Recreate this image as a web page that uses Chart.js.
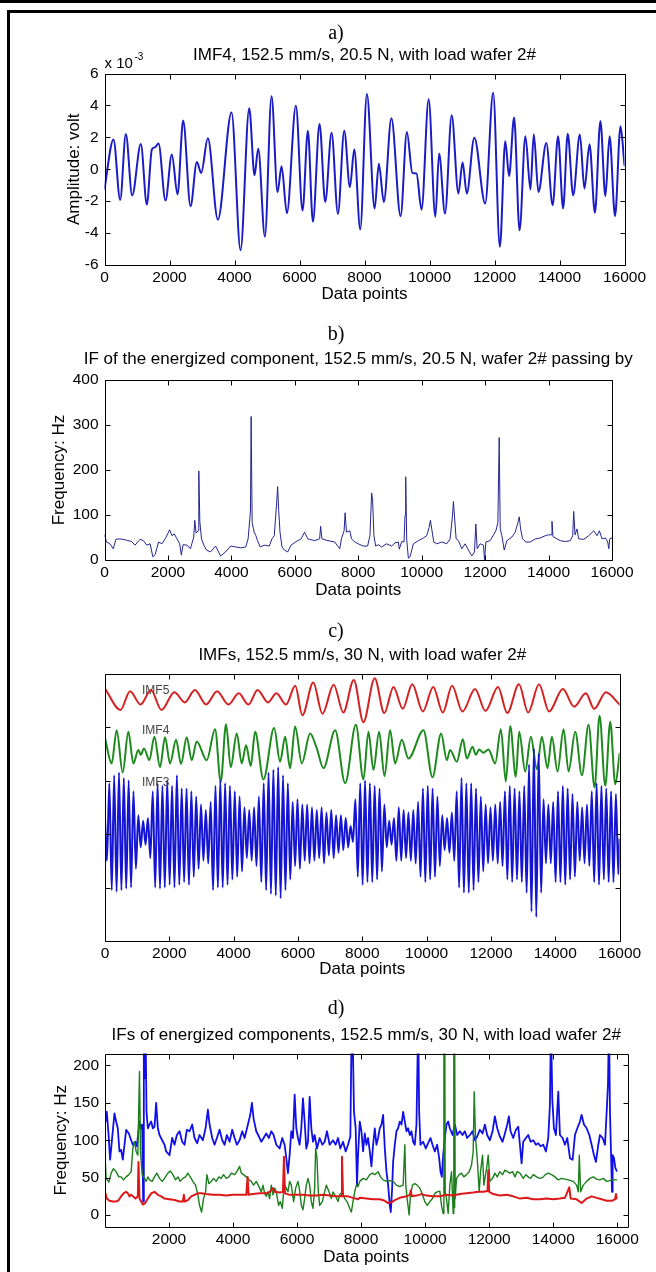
<!DOCTYPE html>
<html>
<head>
<meta charset="utf-8">
<script src="https://cdn.jsdelivr.net/npm/chart.js@4.4.1/dist/chart.umd.min.js"></script>
<style>
  html, body { margin: 0; padding: 0; background: #fff; overflow: hidden; }
  #page { position: relative; width: 656px; height: 1272px; background: #fff; }
  .rule { position: absolute; background: #000; }
  canvas { position: absolute; left: 16px; }
</style>
</head>
<body>
<div id="page">
  <div class="rule" style="left:0;top:0;width:656px;height:3px"></div>
  <div class="rule" style="left:7px;top:10px;width:649px;height:3px"></div>
  <div class="rule" style="left:7px;top:10px;width:3px;height:1262px"></div>
  <canvas id="chartA" width="640" height="310" style="top:0px"></canvas>
  <canvas id="chartB" width="640" height="305" style="top:310px"></canvas>
  <canvas id="chartC" width="640" height="370" style="top:615px"></canvas>
  <canvas id="chartD" width="640" height="287" style="top:985px"></canvas>
</div>
<script>
// ---------- shared tick values ----------
const xTicks = [0, 2000, 4000, 6000, 8000, 10000, 12000, 14000, 16000];
const xTicksD = [2000, 4000, 6000, 8000, 10000, 12000, 14000, 16000];
const yTicksA = [-6, -4, -2, 0, 2, 4, 6];
const yTicksB = [0, 100, 200, 300, 400];
const yTicksC = [1, 2, 3, 4];
const yTicksD = [0, 50, 100, 150, 200];

// ---------- a) IMF4 at 20.5 N: turning points (amplitude in units of 1e-3 V) ----------
const imf4X = [0, 277, 482, 657, 852, 1118, 1303, 1457, 1560, 1662, 1877, 2072, 2247, 2421, 2647, 2842, 2975, 3180, 3488, 3909, 4186, 4453, 4617, 4730, 4935, 5140, 5325, 5448, 5612, 5889, 6094, 6258, 6412, 6617, 6792, 6987, 7182, 7377, 7551, 7685, 7869, 8074, 8312, 8441, 8595, 8827, 9111, 9304, 9472, 9600, 9755, 9974, 10180, 10296, 10477, 10683, 10889, 11018, 11147, 11379, 11714, 11959, 12165, 12332, 12448, 12603, 12771, 12951, 13106, 13209, 13351, 13595, 13789, 13956, 14111, 14253, 14420, 14626, 14768, 14923, 15090, 15258, 15412, 15541, 15709, 15876, 16000];
const imf4Amp = [-1.22, 1.87, -1.92, 2.21, -1.64, 1.58, -2.21, 1.24, 1.38, 1.62, -1.96, 0.93, -1.58, 3.05, -2.32, 0.46, -0.23, 1.94, -3.16, 3.56, -5.07, 3.83, -0.38, 1.3, -4.23, 4.57, -1.43, 0.19, -2.76, 3.98, -2.59, 2.42, -3.28, 2.84, -2.06, 2.29, -2.8, 2.42, -1.12, 1.24, -3.77, 4.72, -2.46, 0.35, -2.05, 3.2, -2.94, 2.34, -0.23, -0.27, -2.53, 4.38, -2.98, 0.98, -2.78, 3.38, -1.52, 0.42, -1.52, 1.98, -2.15, 4.8, -4.86, 1.75, -0.42, 3.24, -3.82, 2.07, -1.27, 2.19, -1.42, 1.65, -2.25, 2.07, -2.46, 2.23, -1.63, 2.17, -1.21, 1.57, -2.73, 3.03, -1.69, 2.07, -2.94, 2.69, 0.25];

// ---------- b) instantaneous frequency of the energized component (Hz) ----------
const ifX = [0, 63, 169, 275, 360, 487, 698, 857, 963, 1121, 1227, 1333, 1439, 1524, 1598, 1703, 1809, 1915, 2053, 2127, 2201, 2285, 2370, 2423, 2476, 2603, 2708, 2814, 2846, 2888, 2952, 2973, 3005, 3058, 3132, 3216, 3343, 3502, 3661, 3819, 3978, 4137, 4295, 4454, 4528, 4602, 4623, 4655, 4719, 4772, 4824, 4909, 5036, 5195, 5279, 5353, 5428, 5459, 5491, 5533, 5597, 5671, 5777, 5882, 6041, 6200, 6306, 6411, 6623, 6782, 6814, 6856, 7046, 7258, 7417, 7469, 7554, 7586, 7628, 7734, 7787, 7893,
  8000, 8158, 8295, 8369, 8422, 8453, 8495, 8548, 8632, 8737, 8895, 9053, 9159, 9264, 9295, 9369, 9443, 9474, 9496, 9527, 9580, 9632, 9738, 9896, 10054, 10159, 10233, 10275, 10317, 10380, 10475, 10633, 10791, 10896, 10970, 11001, 11033, 11086, 11159, 11265, 11370, 11475, 11581, 11665, 11707, 11749, 11844, 11949, 11981, 12023, 12160, 12265, 12339, 12402, 12444, 12476, 12528, 12602, 12686, 12844, 12949, 13034, 13076, 13118, 13181, 13286, 13423, 13581, 13739, 13897, 14002, 14087, 14108, 14139, 14266, 14371, 14529, 14687, 14761, 14793, 14834, 14897, 14950, 15108, 15266, 15424, 15529, 15603, 15687, 15793, 15866, 15898, 15929, 16000];
const ifHz = [56, 40, 36, 25, 46, 47, 44, 41, 33, 46, 43, 33, 36, 7, 12, 40, 36, 47, 67, 54, 58, 47, 36, 11, 34, 33, 25, 51, 88, 60, 65, 198, 86, 47, 33, 22, 18, 31, 9, 18, 31, 29, 27, 29, 47, 109, 319, 83, 62, 54, 43, 29, 33, 31, 47, 54, 127, 163, 112, 62, 29, 22, 18, 33, 41, 47, 62, 47, 43, 47, 75, 47, 43, 40, 25, 47, 65, 105, 62, 65, 47, 40,
  36, 31, 31, 54, 149, 133, 54, 31, 34, 29, 36, 31, 38, 40, 24, 41, 40, 99, 185, 47, 4, 7, 36, 43, 49, 54, 72, 88, 69, 40, 36, 40, 36, 47, 98, 130, 98, 47, 43, 25, 36, 22, 9, 18, 80, 25, 36, 33, 0, 40, 43, 56, 65, 83, 272, 69, 54, 22, 43, 51, 62, 83, 96, 69, 47, 40, 40, 47, 49, 54, 56, 56, 86, 52, 47, 43, 41, 43, 54, 108, 56, 69, 47, 46, 54, 65, 54, 65, 47, 49, 40, 25, 47, 49];

// ---------- c) IMFs at 30 N, stacked with offsets (IMF5 top, IMF4 middle, IMF3 bottom) ----------
const imf5X = [0, 481, 780, 1105, 1430, 1755, 2160, 2480, 2795, 3146, 3484, 3835, 4160, 4459, 4745, 5070, 5330, 5629, 5915, 6136, 6474, 6760, 7111, 7410, 7735, 8034, 8385, 8684, 8970, 9256, 9555, 9880, 10205, 10504, 10790, 11115, 11505, 11830, 12220, 12506, 12870, 13156, 13494, 13806, 14235, 14586, 14950, 15210, 15574, 16000];
const imf5Y = [4.72, 4.32, 4.67, 4.42, 4.69, 4.32, 4.65, 4.46, 4.69, 4.42, 4.67, 4.42, 4.63, 4.42, 4.69, 4.46, 4.63, 4.42, 4.77, 4.22, 4.83, 4.25, 4.79, 4.27, 4.88, 4.09, 4.91, 4.26, 4.75, 4.34, 4.80, 4.29, 4.75, 4.27, 4.77, 4.29, 4.71, 4.30, 4.75, 4.26, 4.80, 4.27, 4.80, 4.29, 4.71, 4.38, 4.63, 4.34, 4.65, 4.42];

const imf4cX = [0, 207, 363, 550, 726, 882, 1037, 1110, 1213, 1379, 1535, 1711, 1867, 2022, 2209, 2364, 2541, 2696, 2852, 3163, 3422, 3598, 3764, 3909, 4096, 4252, 4387, 4532, 4667, 4926, 5258, 5444, 5600, 5755, 5911, 6118, 6378, 6585, 6792, 7155, 7467, 7800, 8035, 8191, 8346, 8523, 8689, 8865, 9020, 9228, 9435, 9902, 10182, 10451, 10628, 10731, 10939, 11126, 11250, 11426, 11530, 11634, 11768, 11924, 12131, 12308, 12463, 12598, 12774, 12878, 13065, 13241, 13428, 13583, 13759, 13894, 14071, 14257, 14413, 14620, 14828, 15035, 15222, 15377, 15554, 15709, 15865, 16000];
const imf4cY = [3.79, 3.32, 3.94, 3.15, 3.91, 3.32, 3.57, 3.48, 3.60, 3.38, 3.82, 3.25, 3.81, 3.32, 3.76, 3.31, 3.81, 3.38, 3.73, 3.38, 3.96, 2.98, 4.05, 3.25, 3.88, 3.32, 3.66, 3.27, 3.91, 3.02, 3.98, 3.35, 3.82, 3.23, 4.01, 3.32, 3.88, 3.60, 3.23, 3.94, 2.95, 4.04, 3.02, 3.91, 3.20, 3.91, 3.08, 3.94, 3.32, 3.76, 3.41, 3.94, 3.06, 3.88, 3.38, 3.57, 3.35, 3.77, 3.41, 3.63, 3.48, 3.58, 3.52, 3.58, 3.32, 3.96, 2.98, 4.02, 3.07, 3.91, 3.17, 3.82, 3.21, 3.82, 3.23, 3.82, 3.17, 3.96, 3.17, 3.91, 3.10, 4.04, 2.87, 4.21, 2.90, 4.10, 2.93, 3.50];

// IMF3 turning points, one line per stretch of similar amplitude
const imf3X = [
  0, 60, 135, 210, 285, 360, 435, 510, 585, 660, 735, 810, 885, 960,
  1035, 1110, 1185, 1260, 1335, 1410,
  1485, 1560, 1635, 1710, 1785, 1860, 1935, 2010, 2085, 2160, 2235, 2310, 2385, 2460, 2535, 2610, 2685, 2760, 2835, 2910,
  2985, 3060, 3135, 3210, 3285,
  3360, 3435, 3510, 3585, 3660, 3735, 3810, 3885, 3960, 4035, 4110, 4185, 4260,
  4335, 4410, 4485, 4560, 4635, 4710, 4785,
  4860, 4935, 5010, 5085, 5160, 5235, 5310, 5385, 5460, 5535, 5610, 5685, 5760,
  5835, 5910, 5985, 6060, 6135, 6210, 6285, 6360, 6435, 6510, 6585, 6660, 6735, 6810, 6885, 6960, 7035, 7110, 7185, 7260, 7335, 7410, 7485, 7560,
  7635, 7710,
  7785, 7860, 7935, 8010, 8085, 8160, 8235, 8310, 8385, 8460, 8535, 8610, 8685,
  8760, 8835, 8910, 8985,
  9060, 9135, 9210, 9285, 9360, 9435, 9510, 9585, 9660, 9735,
  9810, 9885, 9960, 10035, 10110, 10185, 10260, 10335, 10410,
  10485, 10560, 10635, 10710, 10785, 10860,
  10935, 11010, 11085, 11160, 11235, 11310, 11385, 11460, 11535, 11610, 11685, 11760,
  11835, 11910, 11985, 12060, 12135, 12210, 12285, 12360,
  12435, 12510, 12585, 12660, 12735, 12810, 12885, 12960, 13035, 13110,
  13185, 13260, 13335, 13410, 13485, 13560,
  13635, 13710, 13785, 13860, 13935,
  14010, 14085, 14160, 14235, 14310, 14385, 14460, 14535, 14610, 14685,
  14760, 14835, 14910, 14985, 15060,
  15135, 15210, 15285, 15360, 15435, 15510, 15585, 15660, 15735, 15810, 15885, 15960, 16000];
const imf3Y = [
  2.3, 1.5, 2.95, 0.95, 3.1, 0.92, 3.15, 0.95, 3.05, 0.98, 3.0, 1.0, 2.8, 1.35,
  2.35, 1.75, 2.25, 1.8, 2.3, 1.55,
  2.8, 1.0, 2.95, 0.98, 2.9, 1.0, 3.0, 1.05, 2.9, 1.0, 3.1, 1.05, 2.85, 1.1, 2.85, 1.05, 2.8, 1.2, 2.7, 1.35,
  2.55, 1.5, 2.45, 1.45, 2.6,
  0.95, 2.9, 1.0, 3.0, 1.0, 2.95, 1.05, 2.9, 1.15, 2.8, 1.2, 2.7, 1.3,
  2.5, 1.55, 2.45, 1.5, 2.5, 1.4, 2.7,
  1.1, 2.95, 0.95, 3.15, 0.88, 3.2, 0.85, 3.25, 0.8, 3.1, 0.95, 2.95, 1.15,
  2.6, 1.4, 2.65, 1.35, 2.55, 1.5, 2.55, 1.45, 2.5, 1.5, 2.45, 1.55, 2.5, 1.45, 2.4, 1.6, 2.45, 1.55, 2.35, 1.65, 2.35, 1.7, 2.3, 1.75,
  2.15, 1.85,
  2.65, 1.2, 2.95, 1.05, 3.0, 1.1, 2.95, 1.1, 2.9, 1.15, 2.85, 1.3, 2.55,
  1.75, 2.25, 1.8, 2.3,
  1.5, 2.5, 1.5, 2.45, 1.55, 2.4, 1.5, 2.45, 1.45, 2.6,
  1.2, 2.85, 1.1, 2.9, 1.15, 2.85, 1.2, 2.7, 1.4,
  2.35, 1.7, 2.3, 1.65, 2.4, 1.5,
  2.8, 1.0, 3.05, 0.9, 2.95, 0.9, 2.95, 0.95, 2.85, 1.1, 2.7, 1.3,
  2.55, 1.45, 2.5, 1.5, 2.55, 1.45, 2.6, 1.4,
  2.8, 1.15, 2.9, 1.1, 2.85, 1.15, 2.8, 1.1, 2.9, 0.9,
  3.3, 0.55, 3.6, 0.45, 3.5, 0.9,
  2.65, 1.45, 2.55, 1.45, 2.6,
  1.1, 2.8, 1.1, 2.9, 1.05, 2.85, 1.15, 2.75, 1.2, 2.6,
  1.5, 2.5, 1.45, 2.55, 1.4,
  2.8, 1.1, 2.95, 1.05, 2.9, 1.15, 2.85, 1.1, 2.8, 1.1, 2.75, 1.25, 1.9];

// ---------- d) IFs of the energized components at 30 N (Hz) ----------
const ifdBlueX = [1, 16, 57, 109, 161, 224, 297, 349, 401, 453, 505, 557, 610, 662, 745, 818, 870, 943, 995, 1078, 1131, 1162, 1193, 1214, 1245, 1266, 1297, 1339, 1391, 1443, 1495, 1547, 1599, 1652, 1704, 1787, 1860, 1912, 2016, 2100, 2173, 2245, 2329, 2412, 2485, 2558, 2641, 2725, 2798, 2881, 2954, 3058, 3142, 3215, 3267, 3350, 3423, 3496, 3579, 3663, 3736, 3808, 3892, 3975, 4048, 4121, 4204, 4288, 4361, 4465, 4538, 4590, 4642, 4725, 4809, 4882, 4955, 5038, 5121, 5194, 5267, 5351, 5455, 5538, 5611, 5663, 5715, 5767, 5820, 5872, 5924, 5976, 6028, 6080, 6132, 6184, 6236, 6288, 6341, 6393, 6445, 6497, 6549, 6622, 6705, 6789, 6862, 6934, 7018, 7122, 7205, 7278, 7351, 7435, 7518, 7591, 7664, 7706, 7747, 7778, 7830, 7872, 7904,
  7958, 8010, 8062, 8114, 8166, 8219, 8271, 8323, 8375, 8427, 8479, 8531, 8583, 8635, 8687, 8740, 8792, 8844, 8896, 8927, 8969, 9000, 9052, 9104, 9156, 9208, 9261, 9313, 9365, 9417, 9469, 9521, 9573, 9625, 9677, 9729, 9782, 9813, 9854, 9938, 10021, 10094, 10167, 10230, 10303, 10375, 10438, 10480, 10521, 10563, 10615, 10667, 10719, 10771, 10855, 10928, 11001, 11084, 11167, 11240, 11313, 11397, 11480, 11553, 11626, 11709, 11793, 11866, 11938, 12022, 12105, 12178, 12251, 12334, 12418, 12491, 12564, 12616, 12668, 12751, 12835, 12908, 12960, 13012, 13064, 13147, 13220, 13293, 13376, 13460, 13533, 13606, 13689, 13772, 13845, 13897, 13929, 13970, 14022, 14085, 14158, 14210, 14293, 14366, 14439, 14523, 14606, 14679, 14752, 14835, 14887, 14960, 15044, 15127, 15200, 15273, 15335, 15408, 15460, 15544, 15617, 15669, 15710, 15742, 15773, 15804, 15836, 15856, 15898, 15940, 15981];
const ifdBlueHz = [138, 125, 138, 109, 74, 103, 136, 125, 116, 85, 87, 74, 94, 114, 109, 100, 94, 98, 92, 125, 116, 121, 18, 260, 183, 260, 138, 116, 121, 125, 116, 118, 150, 116, 107, 100, 94, 85, 80, 103, 94, 107, 112, 98, 94, 114, 112, 121, 103, 96, 107, 100, 116, 141, 121, 103, 94, 103, 114, 100, 94, 107, 98, 114, 103, 94, 100, 112, 103, 121, 134, 150, 129, 112, 105, 98, 103, 109, 103, 112, 107, 94, 89, 103, 94, 76, 56, 80, 112, 103, 161, 116, 103, 94, 116, 156, 125, 89, 98, 158, 116, 98, 107, 89, 103, 94, 98, 112, 94, 100, 94, 103, 89, 98, 85, 94, 105, 260, 214, 138, 116, 40, 80,
  125, 112, 85, 109, 94, 103, 85, 65, 94, 116, 94, 103, 116, 121, 134, 89, 58, 40, 13, 4, 36, 71, 94, 112, 116, 125, 121, 138, 125, 112, 116, 107, 112, 98, 94, 121, 260, 138, 94, 98, 89, 96, 103, 94, 85, 94, 76, 58, 51, 80, 103, 121, 125, 116, 107, 121, 107, 112, 107, 112, 103, 107, 112, 100, 105, 114, 109, 121, 107, 100, 112, 132, 116, 105, 98, 109, 121, 132, 112, 103, 114, 118, 94, 69, 98, 103, 107, 98, 100, 94, 96, 92, 94, 85, 103, 147, 260, 156, 116, 107, 165, 107, 103, 94, 103, 76, 74, 107, 116, 125, 134, 121, 116, 107, 94, 80, 71, 94, 107, 103, 94, 138, 174, 260, 138, 85, 31, 80, 76, 63, 59];

const ifdGreenX = [1, 36, 120, 193, 266, 349, 432, 505, 578, 662, 745, 818, 870, 922, 974, 1026, 1078, 1110, 1162, 1235, 1287, 1339, 1391, 1474, 1547, 1620, 1704, 1787, 1860, 1964, 2037, 2120, 2204, 2277, 2350, 2433, 2516, 2589, 2662, 2746, 2829, 2902, 2954, 3017, 3079, 3142, 3183, 3246, 3319, 3392, 3475, 3558, 3631, 3704, 3788, 3871, 3944, 4048, 4121, 4204, 4257, 4329, 4413, 4496, 4569, 4642, 4725, 4809, 4882, 4934, 4986, 5038, 5090, 5142, 5194, 5246, 5299, 5351, 5423, 5476, 5538, 5580, 5611, 5663, 5715, 5767, 5820, 5892, 5955, 6028, 6080, 6132, 6184, 6236, 6288, 6341, 6393, 6445, 6497, 6549, 6580, 6622, 6664, 6705, 6789, 6862, 6914, 6997, 7070, 7122, 7205, 7278, 7330, 7414, 7487, 7560, 7643, 7695, 7747, 7799, 7851, 7904,
  7958, 8062, 8166, 8271, 8354, 8427, 8531, 8604, 8687, 8792, 8896, 9000, 9104, 9208, 9313, 9365, 9396, 9438, 9500, 9542, 9604, 9677, 9750, 9834, 9917, 9990, 10063, 10146, 10230, 10303, 10375, 10459, 10511, 10563, 10585, 10600, 10612, 10626, 10667, 10719, 10771, 10824, 10876, 10895, 10910, 10922, 10938, 10980, 11063, 11136, 11209, 11292, 11376, 11449, 11501, 11532, 11574, 11626, 11688, 11730, 11793, 11834, 11918, 11970, 12022, 12105, 12178, 12251, 12334, 12418, 12491, 12564, 12647, 12730, 12803, 12876, 12960, 13064, 13147, 13220, 13293, 13376, 13480, 13585, 13668, 13752, 13845, 13950, 14054, 14158, 14262, 14366, 14471, 14627, 14731, 14783, 14814, 14856, 14939, 15044, 15148, 15252, 15356, 15460, 15565, 15669, 15773, 15877, 15981];
const ifdGreenHz = [80, 49, 44, 56, 62, 58, 51, 51, 47, 51, 54, 58, 89, 98, 85, 80, 192, 85, 54, 49, 45, 51, 47, 45, 51, 56, 49, 45, 49, 56, 59, 54, 47, 51, 45, 49, 51, 56, 51, 45, 40, 27, 13, 4, 22, 31, 54, 42, 45, 49, 45, 51, 49, 54, 49, 51, 56, 54, 58, 65, 56, 54, 51, 47, 45, 40, 45, 38, 31, 40, 29, 25, 31, 22, 40, 27, 36, 31, 13, 18, 9, 31, 40, 36, 31, 45, 40, 18, 36, 45, 33, 13, 7, 22, 40, 49, 40, 18, 9, 36, 89, 76, 31, 13, 18, 31, 40, 31, 22, 31, 25, 18, 27, 31, 22, 18, 9, 4, 18, 31, 40, 38,
  45, 49, 47, 54, 56, 54, 58, 51, 47, 45, 46, 45, 40, 38, 40, 94, 40, 22, 0, 27, 40, 42, 40, 36, 27, 18, 13, 18, 22, 29, 31, 32, 13, 2, 260, 30, 260, 31, 22, 2, 40, 58, 2, 260, 10, 260, 22, 49, 54, 56, 51, 54, 58, 67, 85, 165, 103, 76, 31, 58, 80, 40, 62, 80, 45, 49, 56, 51, 58, 54, 60, 58, 56, 58, 51, 58, 56, 49, 54, 51, 49, 54, 51, 49, 50, 54, 56, 54, 51, 47, 49, 48, 47, 45, 40, 31, 80, 31, 40, 45, 49, 51, 48, 47, 49, 45, 46, 47, 47];

const ifdRedX = [1, 57, 141, 245, 349, 432, 505, 578, 662, 714, 766, 818, 870, 953, 1026, 1047, 1078, 1131, 1183, 1256, 1339, 1443, 1547, 1652, 1756, 1860, 2016, 2173, 2329, 2433, 2464, 2496, 2589, 2694, 2798, 2902, 3006, 3162, 3371, 3579, 3788, 3996, 4204, 4413, 4455, 4486, 4621, 4830, 5038, 5142, 5246, 5299, 5455, 5559, 5590, 5621, 5767, 5976, 6184, 6393, 6601, 6810, 7018, 7226, 7383, 7403, 7435, 7591, 7747, 7904,
  7958, 8166, 8375, 8583, 8740, 8844, 8948, 9052, 9208, 9417, 9521, 9552, 9584, 9729, 9886, 10042, 10250, 10459, 10667, 10876, 11084, 11292, 11501, 11657, 11813, 11949, 11970, 12001, 12126, 12334, 12543, 12751, 12960, 13168, 13376, 13585, 13793, 14002, 14210, 14366, 14502, 14544, 14731, 14887, 15044, 15200, 15356, 15513, 15669, 15825, 15929, 15960, 15981];
const ifdRedHz = [31, 22, 19, 18, 18, 20, 25, 29, 31, 29, 25, 27, 25, 22, 25, 71, 22, 18, 14, 16, 22, 29, 31, 27, 25, 22, 21, 20, 18, 18, 27, 18, 20, 25, 27, 29, 29, 28, 27, 27, 26, 27, 27, 27, 51, 27, 28, 29, 29, 31, 36, 31, 30, 31, 78, 29, 27, 27, 27, 26, 26, 27, 26, 25, 25, 78, 25, 25, 23, 21,
  23, 22, 21, 21, 19, 16, 17, 20, 23, 25, 27, 33, 25, 26, 28, 26, 25, 25, 27, 26, 28, 29, 30, 31, 31, 32, 60, 31, 28, 26, 27, 25, 22, 23, 21, 21, 22, 21, 22, 23, 37, 22, 21, 16, 22, 25, 23, 21, 19, 19, 21, 28, 22];

// ---------- helpers ----------
const SANS = "'Liberation Sans', Arial, Helvetica, sans-serif";
const SERIF = "'Liberation Serif', 'Times New Roman', serif";

function points(xs, ys) {
  const n = Math.min(xs.length, ys.length);
  const out = [];
  for (let i = 0; i < n; i++) out.push({ x: xs[i], y: ys[i] });
  return out;
}

// axes box with inward tick marks on all four sides
const frame = {
  id: 'frame',
  afterDatasetsDraw(chart, args, opts) {
    const { ctx, chartArea: a } = chart;
    const L = Math.round(a.left) + 0.5, R = Math.round(a.right) + 0.5;
    const T = Math.round(a.top) + 0.5, B = Math.round(a.bottom) + 0.5;
    const len = opts.tickLength || 5;
    const xs = chart.scales.x, ys = chart.scales.y;
    ctx.save();
    ctx.strokeStyle = '#000';
    ctx.lineWidth = 1;
    ctx.beginPath();
    ctx.rect(L, T, R - L, B - T);
    xs.ticks.forEach(t => {
      const p = Math.round(xs.getPixelForValue(t.value)) + 0.5;
      ctx.moveTo(p, B); ctx.lineTo(p, B - len);
      ctx.moveTo(p, T); ctx.lineTo(p, T + len);
    });
    ys.ticks.forEach(t => {
      const p = Math.round(ys.getPixelForValue(t.value)) + 0.5;
      ctx.moveTo(L, p); ctx.lineTo(L + len, p);
      ctx.moveTo(R, p); ctx.lineTo(R - len, p);
    });
    ctx.stroke();
    ctx.restore();
  }
};

// free text: panel letter, caption above the plot, exponent marker, trace names
const notes = {
  id: 'notes',
  afterDraw(chart, args, opts) {
    const { ctx, chartArea: a } = chart;
    (opts.items || []).forEach(n => {
      let x, y, align = 'left';
      if (n.data) {
        x = chart.scales.x.getPixelForValue(n.x);
        y = chart.scales.y.getPixelForValue(n.y);
      } else if (n.canvas) {
        x = chart.width / 2; y = n.y; align = 'center';
      } else if (n.center) {
        x = (a.left + a.right) / 2; y = a.top + n.dy; align = 'center';
      } else {
        x = a.left + (n.dx || 0); y = a.top + n.dy;
      }
      ctx.save();
      ctx.font = (n.size || 17) + 'px ' + (n.family || SANS);
      ctx.fillStyle = n.color || '#000';
      ctx.textAlign = align;
      ctx.textBaseline = n.baseline || 'middle';
      ctx.fillText(n.text, x, y);
      ctx.restore();
    });
  }
};

function makeChart(id, c) {
  const hiddenGrid = { display: false, drawTicks: false, tickLength: 0 };
  const xScale = {
    type: 'linear', min: c.xMin, max: c.xMax,
    grid: hiddenGrid, border: { display: false },
    ticks: { font: { family: SANS, size: 15.5 }, color: '#000', padding: 3, maxRotation: 0, autoSkip: false, callback: v => String(v) },
    afterBuildTicks: axis => { axis.ticks = c.xTicks.map(v => ({ value: v })); },
    afterFit: s => { s.height = c.xHeight; },
    title: { display: true, text: 'Data points', color: '#000', font: { family: SANS, size: 17, lineHeight: 1 }, padding: { top: 0, bottom: c.xTitlePad } }
  };
  const yScale = {
    type: 'linear', min: c.yMin, max: c.yMax,
    grid: hiddenGrid, border: { display: false },
    ticks: { display: c.yLabels !== false, font: { family: SANS, size: 15.5 }, color: '#000', padding: 6, autoSkip: false, callback: v => String(v) },
    afterBuildTicks: axis => { axis.ticks = c.yTicks.map(v => ({ value: v })); },
    afterFit: s => { s.width = c.yWidth; },
    title: c.yTitle ? { display: true, text: c.yTitle, color: '#000', font: { family: SANS, size: 17, lineHeight: 1 }, padding: { top: c.yTitlePad, bottom: 0 } } : { display: false }
  };
  const items = [{ text: c.letter, canvas: true, y: c.letterY, size: 20, family: SERIF }].concat(c.notes);
  return new Chart(document.getElementById(id), {
    type: 'line',
    data: { datasets: c.datasets },
    plugins: [frame, notes],
    options: {
      responsive: false,
      animation: false,
      devicePixelRatio: 1,
      parsing: false,
      normalized: true,
      events: [],
      layout: { padding: { left: 0, right: c.padRight, top: c.padTop, bottom: 0 } },
      elements: { point: { radius: 0 }, line: { borderJoinStyle: 'round', borderCapStyle: 'round' } },
      plugins: {
        legend: { display: false },
        tooltip: { enabled: false },
        title: { display: false },
        notes: { items: items },
        frame: { tickLength: 5 }
      },
      scales: { x: xScale, y: yScale }
    }
  });
}

// ---------- a) ----------
makeChart('chartA', {
  letter: 'a)', letterY: 33.5, padTop: 73.5,
  xMin: 0, xMax: 16000, xTicks: xTicks, xHeight: 45, xTitlePad: 7.5,
  yMin: -6, yMax: 6, yTicks: yTicksA, yWidth: 88.5, yTitle: 'Amplitude: volt', yTitlePad: 50,
  padRight: 31.5,
  notes: [
    { text: 'IMF4, 152.5 mm/s, 20.5 N, with load wafer 2#', center: true, dy: -18.5, size: 17 },
    { text: 'x 10', dx: 0, dy: -5.5, size: 15, baseline: 'alphabetic' },
    { text: '-3', dx: 30, dy: -13.5, size: 10, baseline: 'alphabetic' }
  ],
  datasets: [{
    data: points(imf4X, imf4Amp), borderColor: '#1c1cc4', borderWidth: 2,
    cubicInterpolationMode: 'monotone', tension: 0.4
  }]
});

// ---------- b) ----------
makeChart('chartB', {
  letter: 'b)', letterY: 25, padTop: 70,
  xMin: 0, xMax: 16000, xTicks: xTicks, xHeight: 55, xTitlePad: 16.5,
  yMin: 0, yMax: 400, yTicks: yTicksB, yWidth: 88.5, yTitle: 'Frequency: Hz', yTitlePad: 34.5,
  padRight: 44,
  notes: [
    { text: 'IF of the energized component, 152.5 mm/s, 20.5 N, wafer 2# passing by', center: true, dy: -21, size: 17 }
  ],
  datasets: [{
    data: points(ifX, ifHz), borderColor: '#25258f', borderWidth: 1, tension: 0
  }]
});

// ---------- c) ----------
makeChart('chartC', {
  letter: 'c)', letterY: 16.5, padTop: 58.5,
  xMin: 0, xMax: 16000, xTicks: xTicks, xHeight: 44, xTitlePad: 7.5,
  yMin: 0, yMax: 5, yTicks: yTicksC, yWidth: 89, yLabels: false,
  padRight: 36.4,
  notes: [
    { text: 'IMFs, 152.5 mm/s, 30 N, with load wafer 2#', center: true, dy: -18, size: 17 },
    { text: 'IMF5', data: true, x: 1151, y: 4.67, size: 12, color: '#444' },
    { text: 'IMF4', data: true, x: 1151, y: 3.93, size: 12, color: '#444' },
    { text: 'IMF3', data: true, x: 1151, y: 2.95, size: 12, color: '#444' }
  ],
  datasets: [
    { data: points(imf5X, imf5Y), borderColor: '#d42222', borderWidth: 2, cubicInterpolationMode: 'monotone', tension: 0.4, order: 3 },
    { data: points(imf4cX, imf4cY), borderColor: '#1f8a1f', borderWidth: 2, cubicInterpolationMode: 'monotone', tension: 0.4, order: 2 },
    { data: points(imf3X, imf3Y), borderColor: '#1414d2', borderWidth: 2, cubicInterpolationMode: 'monotone', tension: 0.4, order: 1 }
  ]
});

// ---------- d) ----------
makeChart('chartD', {
  letter: 'd)', letterY: 24, padTop: 68.5,
  xMin: 1, xMax: 16320, xTicks: xTicksD, xHeight: 45, xTitlePad: 6.5,
  yMin: -16, yMax: 216, yTicks: yTicksD, yWidth: 89, yTitle: 'Frequency: Hz', yTitlePad: 37,
  padRight: 28.5,
  notes: [
    { text: 'IFs of energized components, 152.5 mm/s, 30 N, with load wafer 2#', center: true, dy: -18, size: 17 }
  ],
  datasets: [
    { data: points(ifdBlueX, ifdBlueHz), borderColor: '#1010e6', borderWidth: 1.8, tension: 0, order: 3 },
    { data: points(ifdGreenX, ifdGreenHz), borderColor: '#1c7f1c', borderWidth: 1.4, tension: 0, order: 2 },
    { data: points(ifdRedX, ifdRedHz), borderColor: '#dc1818', borderWidth: 2, tension: 0, order: 1 }
  ]
});
</script>
</body>
</html>
